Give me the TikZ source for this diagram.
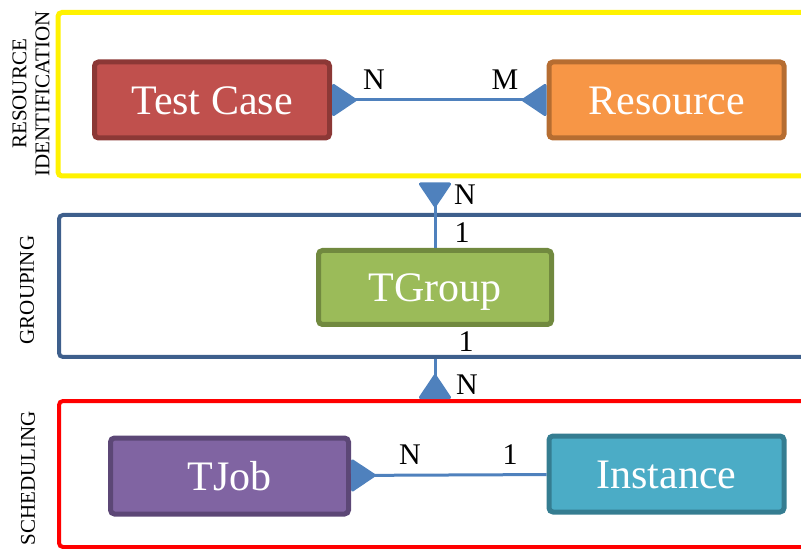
\documentclass[tikz,border=0pt]{standalone}
\usepackage{fontspec}
\setmainfont{Liberation Serif}
\usetikzlibrary{arrows.meta,positioning}
\definecolor{tcred}{HTML}{C0504D}
\definecolor{tcredd}{HTML}{8C3836}
\definecolor{resor}{HTML}{F79646}
\definecolor{resord}{HTML}{B66D31}
\definecolor{tggreen}{HTML}{9BBB59}
\definecolor{tggreend}{HTML}{71893F}
\definecolor{tjpurple}{HTML}{8064A2}
\definecolor{tjpurpled}{HTML}{5C4776}
\definecolor{inaqua}{HTML}{4BACC6}
\definecolor{inaquad}{HTML}{357D91}
\definecolor{grpblue}{HTML}{3E5F8C}
\definecolor{connblue}{HTML}{4F81BD}

\begin{document}
\begin{tikzpicture}[x=0.5pt,y=-0.5pt]
  \tikzset{
    frame/.style={draw, rectangle, rounded corners=2pt, minimum width=385.5pt, inner sep=0pt},
    box/.style={draw, rectangle, rounded corners=2pt, line width=2.5pt, text=white,
      minimum width=117.5pt, minimum height=38pt, text height=14.5pt, text depth=0pt,
      font=\fontsize{21}{25}\selectfont},
    side/.style={rotate=90, align=center, font=\fontsize{10.5}{11.5}\selectfont},
    card/.style={font=\fontsize{15}{18}\selectfont, inner sep=0pt},
    crow/.tip={Triangle[reversed, length=13pt, width=17pt, round]},
    line/.style={draw, connblue, line width=1.5pt},
  }
  \path[use as bounding box] (0,0) rectangle (801,549);
  \clip (0,0) rectangle (801,549);

  % layers
  \node [frame, draw=yellow, line width=2.5pt, minimum height=81.75pt] (ident) at (443.5,94.25) {};
  \node [frame, draw=grpblue, line width=2pt, minimum height=71pt] (grp) at (444.5,286) {};
  \node [frame, draw=red, line width=2pt, minimum height=73pt] (sched) at (444.5,474) {};
  \node [side] (lident) at (31,94) {RESOURCE\\IDENTIFICATION};
  \node [side] (lgrp) at (27,290) {GROUPING};
  \node [side] (lsched) at (28,478) {SCHEDULING};

  % entities
  \node [box, fill=tcred, draw=tcredd] (tc) at (212,100) {Test Case};
  \node [box, fill=resor, draw=resord, right of=tc, node distance=227.25pt] (res) {Resource};
  \node [box, fill=tggreen, draw=tggreend, minimum width=116.5pt, minimum height=37pt] (tg) at (435,287.5) {TGroup};
  \node [box, fill=tjpurple, draw=tjpurpled, minimum width=119pt] (tj) at (229.5,476) {TJob};
  \node [box, fill=inaqua, draw=inaquad, right of=tj, node distance=218.5pt, yshift=1pt] (inst) {Instance};

  % relations
  \path [line, {crow}-{crow}] (tc) -- (res);
  \path [line, {crow}-, shorten <=2pt] (ident.south -| tg.north) -- (tg.north);
  \path [line, -{crow}] (grp.south -| tg.south) -- (sched.north -| tg.south);
  \path [line, {crow}-] (tj) -- (inst);

  \node [card] (ntc) at (374,80) {N};
  \node [card] (mres) at (505,80) {M};
  \node [card] (nident) at (465,195) {N};
  \node [card] (otg) at (462,233) {1};
  \node [card] (otgb) at (466,342) {1};
  \node [card] (nsched) at (467,385) {N};
  \node [card] (ntj) at (410,455) {N};
  \node [card] (oinst) at (510,455) {1};
\end{tikzpicture}
\end{document}
